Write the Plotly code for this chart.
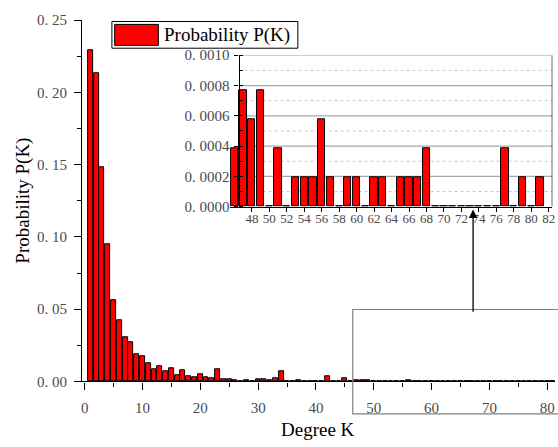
import plotly.graph_objects as go

# ---- data ----
degree_k = list(range(1, 82))
prob_pk = [
    0.229, 0.213, 0.148, 0.095, 0.0563, 0.0427, 0.0303, 0.0268, 0.0186, 0.0174,
    0.0124, 0.0086, 0.0107, 0.0073, 0.0090, 0.0046, 0.0080, 0.0038, 0.0029, 0.0050,
    0.0029, 0.0019, 0.0082, 0.0013, 0.0013, 0.0010, 0.0004, 0.0010, 0.0004, 0.0015,
    0.0015, 0.0006, 0.0019, 0.0071, 0.0002, 0.0002, 0.0006, 0.0002, 0.0002, 0.0004,
    0.0004, 0.0036, 0.0004, 0.0002, 0.0025,
    0.000383, 0.000766, 0.000575, 0.000766, 0.0, 0.000383, 0.0, 0.000191, 0.000191, 0.000191,
    0.000575, 0.000191, 0.0, 0.000191, 0.000191, 0.0, 0.000191, 0.000191, 0.0, 0.000191,
    0.000191, 0.000191, 0.000383, 0.0, 0.0, 0.0, 0.0, 0.0, 0.0, 0.0,
    0.0, 0.000383, 0.0, 0.000191, 0.0, 0.000191,
]
inset_start_k = 46
inset_k = [k for k in degree_k if k >= inset_start_k]
inset_p = [p for k, p in zip(degree_k, prob_pk) if k >= inset_start_k]

main_yticks = [0.0, 0.05, 0.10, 0.15, 0.20, 0.25]
main_ytext = ["0. 00", "0. 05", "0. 10", "0. 15", "0. 20", "0. 25"]
main_xticks = [0, 10, 20, 30, 40, 50, 60, 70, 80]
inset_yticks = [0.0, 0.0002, 0.0004, 0.0006, 0.0008, 0.0010]
inset_ytext = ["0. 0000", "0. 0002", "0. 0004", "0. 0006", "0. 0008", "0. 0010"]
inset_xticks = list(range(48, 83, 2))

W, H = 558, 447
def px(x):
    return x / W
def py(y):
    return 1 - y / H

FONT = "Times New Roman, Liberation Serif, DejaVu Serif, serif"
TICKCOL = "#4a4a4a"

fig = go.Figure()
fig.add_trace(go.Bar(x=degree_k, y=prob_pk, width=0.85,
                     marker=dict(color="#ff0000", line=dict(color="black", width=1)),
                     xaxis="x", yaxis="y", showlegend=False))
fig.add_trace(go.Bar(x=inset_k, y=inset_p, width=0.83,
                     marker=dict(color="#ff0000", line=dict(color="black", width=1)),
                     xaxis="x2", yaxis="y2", showlegend=False))

# inset geometry
in_left_axis_px = 239.3
in_right_px = 555.3
in_unit = (551.7 - 252.7) / 34.0
in_x0 = 48 - (252.7 - in_left_axis_px) / in_unit
in_x1 = 48 + (in_right_px - 252.7) / in_unit
ext_x0 = 45.5
ext_px = 252.7 - (48 - ext_x0) * in_unit

shapes = []
for v in [0.0002, 0.0004, 0.0006, 0.0008, 0.0010]:
    shapes.append(dict(type="line", xref="x2", yref="y2", x0=in_x0, x1=in_x1, y0=v, y1=v,
                       line=dict(color="#a8a8a8", width=1.2), layer="below"))
for v in [0.0001, 0.0003, 0.0005, 0.0007, 0.0009]:
    shapes.append(dict(type="line", xref="x2", yref="y2", x0=in_x0, x1=in_x1, y0=v, y1=v,
                       line=dict(color="#c8c8c8", width=1, dash="dot"), layer="below"))
shapes.append(dict(type="line", xref="x2", yref="y2", x0=in_x1, x1=in_x1, y0=0, y1=0.001,
                   line=dict(color="black", width=1.2)))
shapes.append(dict(type="rect", xref="paper", yref="paper", x0=px(354.3), x1=1.01,
                   y0=py(421), y1=py(312.7), line=dict(color="#808080", width=1.2)))
shapes.append(dict(type="rect", xref="paper", yref="paper", x0=px(111.7), x1=px(299),
                   y0=py(41.7), y1=py(14), line=dict(color="black", width=1), fillcolor="white"))
shapes.append(dict(type="rect", xref="paper", yref="paper", x0=px(114.5), x1=px(158.5),
                   y0=py(38.8), y1=py(17), line=dict(color="black", width=1), fillcolor="#ff0000"))

annotations = [
    dict(text="Probability P(K)", xref="paper", yref="paper", x=px(162), y=py(28),
         xanchor="left", yanchor="middle", showarrow=False,
         font=dict(family=FONT, size=19, color="black")),
    dict(text="Degree K", xref="paper", yref="paper", x=px(319), y=py(437),
         xanchor="center", yanchor="middle", showarrow=False,
         font=dict(family=FONT, size=19, color="black")),
    dict(text="Probability P(K)", xref="paper", yref="paper", x=px(22), y=py(200),
         xanchor="center", yanchor="middle", showarrow=False, textangle=-90,
         font=dict(family=FONT, size=19, color="black")),
    dict(text="", xref="paper", yref="paper", x=px(475.5), y=py(209),
         axref="pixel", ayref="pixel", ax=0, ay=312.7 - 209, showarrow=True,
         arrowhead=2, arrowsize=1.3, arrowwidth=1.3, arrowcolor="black"),
]

fig.update_layout(
    width=W, height=H,
    margin=dict(l=0, r=0, t=0, b=0),
    paper_bgcolor="white", plot_bgcolor="rgba(0,0,0,0)",
    bargap=0,
    font=dict(family=FONT, color=TICKCOL),
    xaxis=dict(domain=[px(81.7), 1.0], range=[-0.45, 81.35], anchor="y",
               tickvals=main_xticks, ticks="outside", ticklen=7, tickwidth=1.2,
               tickcolor="black", showline=True, linecolor="black", linewidth=1.3,
               showgrid=False, zeroline=False, ticklabeloverflow="allow",
               tickfont=dict(family=FONT, size=15, color=TICKCOL),
               minor=dict(dtick=5, tick0=0, ticks="outside", ticklen=4, tickcolor="black", tickwidth=1.2),
               ticklabelstandoff=5),
    yaxis=dict(domain=[py(387.3), py(12.7)], range=[0, 0.25], anchor="x",
               tickvals=main_yticks, ticktext=main_ytext, ticks="outside", ticklen=7,
               tickwidth=1.2, tickcolor="black", showline=True, linecolor="black",
               linewidth=1.3, showgrid=False, zeroline=False,
               tickfont=dict(family=FONT, size=15, color=TICKCOL),
               minor=dict(dtick=0.025, tick0=0, ticks="outside", ticklen=4, tickcolor="black", tickwidth=1.2),
               ticklabelstandoff=4),
    xaxis2=dict(domain=[px(ext_px), px(in_right_px)], range=[ext_x0, in_x1], anchor="y2",
                tickvals=inset_xticks, ticks="outside", ticklen=4, tickwidth=1,
                tickcolor="black", showline=True, linecolor="black", linewidth=1.2,
                showgrid=False, zeroline=False, ticklabeloverflow="allow",
                tickfont=dict(family=FONT, size=13, color=TICKCOL), ticklabelstandoff=-4),
    yaxis2=dict(domain=[py(206), py(49)], range=[0, 0.001], anchor="free",
                position=px(in_left_axis_px),
                tickvals=inset_yticks, ticktext=inset_ytext, ticks="outside", ticklen=4,
                tickwidth=1.2, tickcolor="black", showline=True, linecolor="black",
                linewidth=1.2, showgrid=False, zeroline=False,
                tickfont=dict(family=FONT, size=15, color=TICKCOL),
                minor=dict(dtick=0.0001, tick0=0, ticks="inside", ticklen=3, tickcolor="black"),
                ticklabelstandoff=2),
    shapes=shapes,
    annotations=annotations,
)

fig.write_html("out.html")
